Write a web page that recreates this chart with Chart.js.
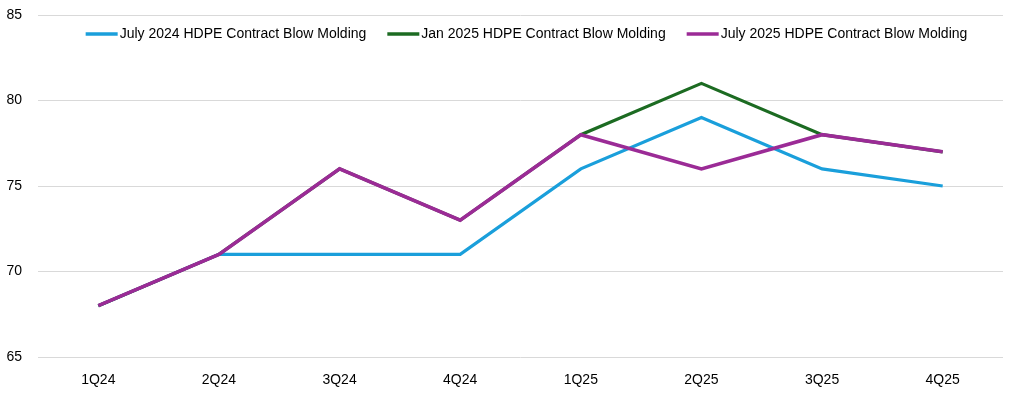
<!DOCTYPE html>
<html>
<head>
<meta charset="utf-8">
<script src="https://cdn.jsdelivr.net/npm/chart.js@4/dist/chart.umd.min.js"></script>
<style>
html,body{margin:0;padding:0;background:#fff;}
#wrap{width:1018px;height:398px;position:relative;}
</style>
</head>
<body>
<div id="wrap"><canvas id="c"></canvas></div>
<script>
const categories = ['1Q24','2Q24','3Q24','4Q24','1Q25','2Q25','3Q25','4Q25'];
const july2024 = [68, 71, 71, 71, 76, 79, 76, 75];
const jan2025  = [68, 71, 76, 73, 78, 81, 78, 77];
const july2025 = [68, 71, 76, 73, 78, 76, 78, 77];
const seriesNames = ['July 2024 HDPE Contract Blow Molding','Jan 2025 HDPE Contract Blow Molding','July 2025 HDPE Contract Blow Molding'];
const seriesColors = ['#1a9fdb','#1c6b22','#9b2b96'];
const yTicks = [65, 70, 75, 80, 85];

const FONT = '"Liberation Sans", Arial, sans-serif';

const legendPlugin = {
  id: 'customLegend',
  afterDraw(chart) {
    const ctx = chart.ctx;
    ctx.save();
    ctx.font = '14px ' + FONT;
    const lineW = 32, gapLT = 2, gapItems = 21;
    const widths = seriesNames.map(n => lineW + gapLT + ctx.measureText(n).width);
    const total = widths.reduce((a,b)=>a+b,0) + gapItems*(widths.length-1);
    const a = chart.chartArea;
    let x = (a.left + a.right) / 2 - total/2 + 6;
    const y = 34;
    chart.data.datasets.forEach((ds, i) => {
      ctx.strokeStyle = ds.borderColor;
      ctx.lineWidth = 3.5;
      ctx.beginPath();
      ctx.moveTo(x, y);
      ctx.lineTo(x + lineW, y);
      ctx.stroke();
      ctx.fillStyle = '#000';
      ctx.textBaseline = 'middle';
      ctx.textAlign = 'left';
      ctx.fillText(ds.label, x + lineW + gapLT, y);
      x += widths[i] + gapItems;
    });
    ctx.restore();
  }
};

new Chart(document.getElementById('c'), {
  type: 'line',
  data: {
    labels: categories,
    datasets: [
      {label: seriesNames[0], data: july2024, borderColor: seriesColors[0], order: 3, borderWidth: 3.2},
      {label: seriesNames[1], data: jan2025, borderColor: seriesColors[1], order: 2, borderWidth: 3.2},
      {label: seriesNames[2], data: july2025, borderColor: seriesColors[2], order: 1, borderWidth: 3.6}
    ].map(d => Object.assign(d, {pointRadius: 0, tension: 0, fill: false, backgroundColor: d.borderColor}))
  },
  options: {
    responsive: true,
    maintainAspectRatio: false,
    animation: false,
    layout: {padding: {left: 0, right: 15, top: 15, bottom: 0}},
    plugins: {legend: {display: false}, tooltip: {enabled: false}},
    scales: {
      x: {
        offset: true,
        grid: {display: false, drawTicks: false},
        border: {display: false},
        ticks: {color: '#000', font: {family: FONT, size: 14}, padding: 15, maxRotation: 0},
        afterFit: s => { s.height = 41; s.paddingLeft = 0; s.paddingRight = 0; }
      },
      y: {
        min: 65, max: 85,
        afterBuildTicks: s => { s.ticks = yTicks.map(v => ({value: v})); },
        grid: {color: '#d9d9d9', lineWidth: 1, drawTicks: false},
        border: {display: false},
        ticks: {color: '#000', font: {family: FONT, size: 14}, padding: 16},
        afterFit: s => { s.width = 38; s.paddingTop = 0; s.paddingBottom = 0; }
      }
    }
  },
  plugins: [legendPlugin]
});
</script>
</body>
</html>
